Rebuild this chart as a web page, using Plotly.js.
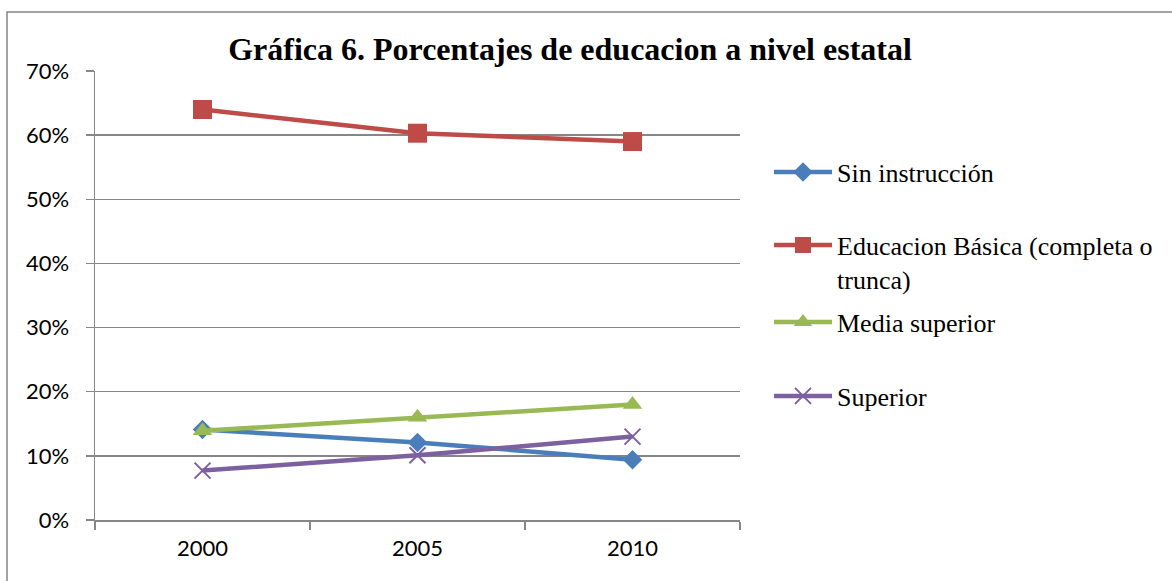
<!DOCTYPE html>
<html>
<head>
<meta charset="utf-8">
<script src="https://cdn.plot.ly/plotly-3.0.1.min.js"></script>
<style>
html,body{margin:0;padding:0;background:#fff;}
#chart{width:1172px;height:581px;}
</style>
</head>
<body>
<div id="chart"></div>
<script>
const years = ['2000', '2005', '2010'];
const sinInstruccion = [0.141, 0.121, 0.094];
const educacionBasica = [0.640, 0.603, 0.590];
const mediaSuperior = [0.139, 0.160, 0.180];
const superior = [0.077, 0.101, 0.130];
const seriesNames = ['Sin instrucción', 'Educacion Básica (completa o<br>trunca)', 'Media superior', 'Superior'];
const yTickVals = [0, 0.1, 0.2, 0.3, 0.4, 0.5, 0.6, 0.7];
const yTickText = ['0%', '10%', '20%', '30%', '40%', '50%', '60%', '70%'];

const L = 95, R = 740, T = 71, B = 520, W = 1172, H = 581;
const pw = R - L, ph = B - T;
function px(x){ return (x - L) / pw; }
function py(y){ return (B - y) / ph; }

const serif = 'Liberation Serif, Times New Roman, serif';
const legendFont = {family: serif, size: 26, color: '#000'};
function legendAt(yPix, valign){
  return {x: px(769), y: py(yPix), xanchor: 'left', yanchor: 'middle', bgcolor: 'rgba(0,0,0,0)',
          font: legendFont, itemwidth: 58, valign: valign || 'middle', borderwidth: 0, tracegroupgap: 0};
}

const traces = [
  {x: years, y: sinInstruccion, name: seriesNames[0], type: 'scatter', mode: 'lines+markers',
   line: {color: '#4A7EBB', width: 4.5}, marker: {symbol: 'diamond', size: 15, color: '#4A7EBB'}, legend: 'legend'},
  {x: years, y: educacionBasica, name: seriesNames[1], type: 'scatter', mode: 'lines+markers',
   line: {color: '#BE4B48', width: 4.5}, marker: {symbol: 'square', size: 19, color: '#BE4B48'}, legend: 'legend2'},
  {x: years, y: mediaSuperior, name: seriesNames[2], type: 'scatter', mode: 'lines+markers',
   line: {color: '#98B954', width: 4.5}, marker: {symbol: 'triangle-up', size: 17, color: '#98B954'}, legend: 'legend3'},
  {x: years, y: superior, name: seriesNames[3], type: 'scatter', mode: 'lines+markers',
   line: {color: '#7D60A0', width: 4.5}, marker: {symbol: 'x-thin', size: 16, line: {color: '#7D60A0', width: 2}}, legend: 'legend4'}
];

const layout = {
  width: W, height: H,
  margin: {l: L, r: W - R, t: T, b: H - B, pad: 0},
  paper_bgcolor: '#fff', plot_bgcolor: '#fff',
  showlegend: true,
  title: {text: '<b>Gráfica 6. Porcentajes de educacion a nivel estatal</b>',
          font: {family: serif, size: 32, color: '#000'},
          x: 570 / W, xanchor: 'center', xref: 'container', y: 1 - 49 / H, yanchor: 'middle', yref: 'container'},
  xaxis: {type: 'category', range: [-0.5, 2.5], showgrid: false, zeroline: false,
          showline: true, linecolor: '#868686', linewidth: 2,
          ticks: 'outside', tickson: 'boundaries', ticklen: 8, tickcolor: '#868686', tickwidth: 1.5,
          tickfont: {family: 'Lato, Open Sans, sans-serif', size: 22, color: '#000'},
          ticklabelstandoff: 8, fixedrange: true},
  yaxis: {range: [0, 0.7], tickvals: yTickVals, ticktext: yTickText,
          showgrid: true, gridcolor: '#868686', gridwidth: 1.5, zeroline: false,
          showline: true, linecolor: '#868686', linewidth: 1.5,
          ticks: 'outside', ticklen: 8, tickcolor: '#868686', tickwidth: 1.5,
          tickfont: {family: 'Lato, Open Sans, sans-serif', size: 22, color: '#000'},
          ticklabelstandoff: 12, fixedrange: true},
  legend: legendAt(172),
  legend2: legendAt(262, 'top'),
  legend3: legendAt(322),
  legend4: legendAt(396),
  shapes: [
    {type: 'rect', xref: 'paper', yref: 'paper', x0: px(7), x1: px(W + 20), y0: py(H + 20), y1: py(12),
     line: {color: '#868686', width: 1.5}, fillcolor: 'rgba(0,0,0,0)', layer: 'below'}
  ]
};

Plotly.newPlot('chart', traces, layout, {displayModeBar: false, staticPlot: true});
</script>
</body>
</html>
